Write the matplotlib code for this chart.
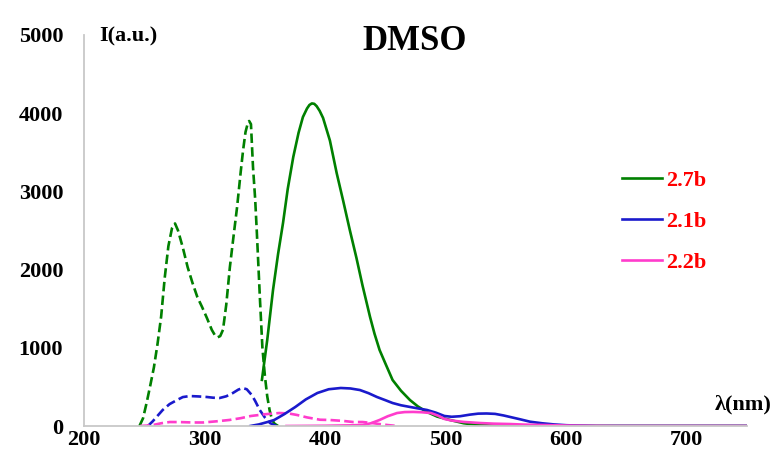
import matplotlib
matplotlib.use("Agg")
import matplotlib.pyplot as plt

# ---------------- data ----------------
x_27b_exc = [246, 249, 252, 255, 258, 261, 264, 267, 270, 273, 275.5, 278, 282, 286, 290, 294,
             298, 302, 306, 309, 311, 313, 315.3, 318, 321, 324, 327, 330, 332, 334, 336, 337,
             338.5, 340.2, 342, 343.4, 346, 348, 350, 352, 354, 356, 358, 361]
y_27b_exc = [0, 100, 300, 520, 750, 1050, 1400, 1900, 2300, 2530, 2590, 2500, 2280, 2030, 1830, 1650,
             1520, 1380, 1230, 1150, 1135, 1150, 1230, 1550, 2030, 2420, 2800, 3250, 3530, 3760, 3880, 3900,
             3860, 3310, 2900, 2470, 1610, 1000, 650, 380, 200, 80, 30, 0]

x_27b_em = [347.6, 352, 356.8, 361, 365.1, 369, 373.6, 378, 381.6, 385, 387, 389, 391, 393, 395.5,
            398.3, 404, 409.6, 415, 420.5, 426, 431, 437.3, 441, 445.2, 450, 456, 463, 470.4, 477,
            484.5, 493, 503.6, 515, 526.3, 540, 560, 600, 650, 700, 750]
y_27b_em = [590, 1100, 1739, 2200, 2596, 3030, 3440, 3750, 3951, 4060, 4105, 4125, 4120, 4090, 4030,
            3940, 3650, 3235, 2880, 2506, 2150, 1800, 1394, 1180, 972, 800, 588, 450, 332, 250,
            179, 120, 77, 35, 13, 5, 0, 0, 0, 0, 0]

x_21b_exc = [253, 257, 261, 265.3, 271, 277.1, 282, 287.8, 295, 301.8, 307, 312.5, 318, 323.5, 328,
             331.5, 335, 339.2, 342, 345.8, 350, 354.3, 358, 362]
y_21b_exc = [0, 60, 130, 205, 280, 332, 370, 383, 378, 371, 362, 358, 380, 422, 465,
             486, 470, 396, 320, 205, 110, 38, 10, 0]

x_21b_em = [338, 345, 352, 357.8, 366, 375.3, 384, 393.6, 403, 413, 421, 428.9, 436, 443, 450, 456,
            463, 470.6, 477, 484.5, 492, 499, 505, 512, 520, 527, 534, 541, 548, 555, 562, 570,
            580, 590, 600, 610, 625, 650, 700, 750]
y_21b_em = [0, 20, 50, 77, 150, 243, 340, 422, 470, 486, 480, 460, 420, 371, 330, 294,
            265, 243, 225, 205, 170, 128, 118, 125, 145, 158, 160, 155, 135, 110, 85, 55,
            35, 20, 10, 5, 0, 0, 0, 0]

x_22b_exc = [246.5, 252, 257.4, 264, 271.2, 280, 290, 298.9, 310, 320.6, 330, 338.4, 350, 362, 370,
             376.7, 385, 395.8, 403.7, 415, 423.2, 431, 438, 445, 452, 460]
y_22b_exc = [0, 5, 13, 35, 51, 50, 45, 45, 60, 77, 100, 128, 150, 166, 160,
             141, 110, 80, 77, 65, 51, 51, 40, 25, 12, 0]

x_22b_em = [368, 400, 420, 431.4, 438, 445.2, 452, 459.7, 466, 473, 480, 487.7, 494, 499, 505, 515,
            528.5, 540, 553.7, 565, 581.4, 600, 620, 640, 700, 750]
y_22b_em = [0, 3, 8, 13, 35, 77, 125, 166, 178, 180, 176, 166, 130, 90, 70, 52,
            38, 30, 25, 18, 13, 6, 2, 0, 0, 0]

labels = ["2.7b", "2.1b", "2.2b"]
x_ticks = [200, 300, 400, 500, 600, 700]
y_ticks = [0, 1000, 2000, 3000, 4000, 5000]

# ---------------- styling ----------------
W, H = 777, 473
fig = plt.figure(figsize=(W / 100, H / 100), dpi=100)
ax = fig.add_axes([84 / W, 1 - 426 / H, (747 - 84) / W, (426 - 35) / H])

green, blue, pink = "#008000", "#1a1acc", "#ff3ccc"
lw = 1.9
dash = (0, (3.6, 1.6))

ax.plot(x_27b_exc, y_27b_exc, color=green, lw=lw, ls=dash)
ax.plot(x_21b_exc, y_21b_exc, color=blue, lw=lw, ls=dash)
ax.plot(x_22b_exc, y_22b_exc, color=pink, lw=lw, ls=dash)
l1, = ax.plot(x_27b_em, y_27b_em, color=green, lw=lw, label=labels[0])
l2, = ax.plot(x_21b_em, y_21b_em, color=blue, lw=lw, label=labels[1])
l3, = ax.plot(x_22b_em, y_22b_em, color=pink, lw=lw, label=labels[2])

ax.set_xlim(200, 750)
ax.set_ylim(0, 5000)
ax.set_xticks(x_ticks)
ax.set_yticks(y_ticks)

font = "Liberation Serif"
for lab in ax.get_xticklabels() + ax.get_yticklabels():
    lab.set_fontfamily(font)
    lab.set_fontweight("bold")
    lab.set_fontsize(16)
ax.tick_params(axis="both", length=0)
ax.tick_params(axis="y", pad=15)
ax.tick_params(axis="x", pad=3)

for s in ["top", "right"]:
    ax.spines[s].set_visible(False)
for s in ["left", "bottom"]:
    ax.spines[s].set_color("#c8c8c8")
    ax.spines[s].set_linewidth(1.3)

ax.text(213, 4975, "I(a.u.)", fontfamily=font, fontweight="bold", fontsize=16,
        ha="left", va="center")
ax.text(474, 4920, "DMSO", fontfamily=font, fontweight="bold", fontsize=25,
        ha="center", va="center")
ax.text(723, 281, "λ(nm)", fontfamily=font, fontweight="bold", fontsize=16,
        ha="left", va="center", clip_on=False)

leg = ax.legend(handles=[l1, l2, l3], loc="upper left",
                bbox_to_anchor=(622 / W, 1 - 170 / H), bbox_transform=fig.transFigure,
                frameon=False, borderpad=0, borderaxespad=0,
                handlelength=1.8, handletextpad=0.18, labelspacing=0.92,
                prop={"family": font, "weight": "bold", "size": 16})
for t in leg.get_texts():
    t.set_color("red")

fig.savefig("out.png", dpi=100)
